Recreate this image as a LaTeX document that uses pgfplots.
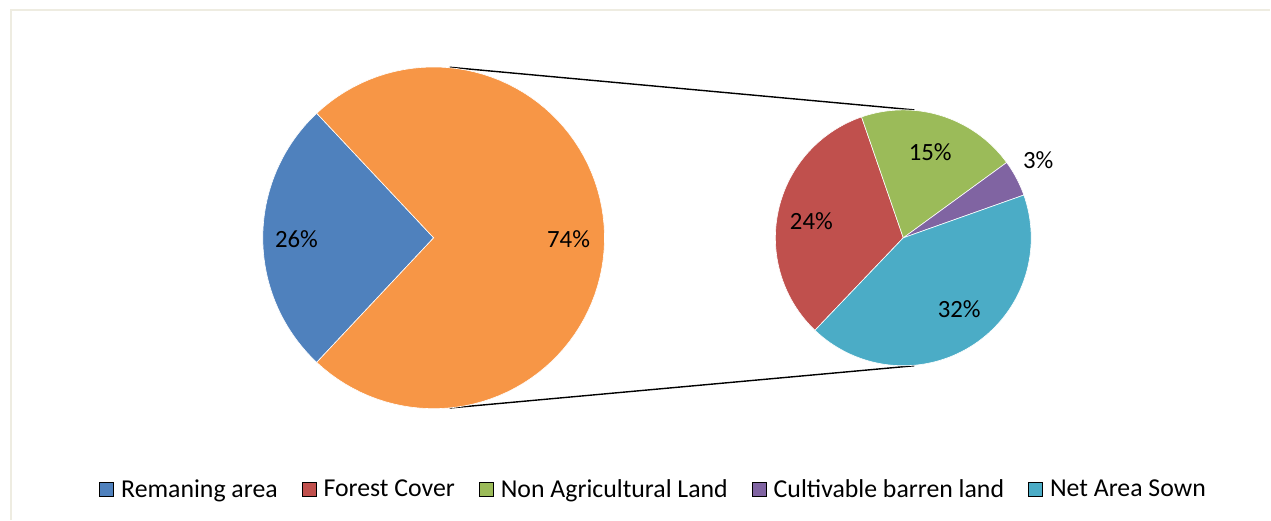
\documentclass[border=0pt]{standalone}
\usepackage{fontspec}
\setmainfont{Carlito}
\usepackage{pgfplots}
\pgfplotsset{compat=1.18}
\definecolor{cBlue}{HTML}{4F81BD}
\definecolor{cOrange}{HTML}{F79646}
\definecolor{cRed}{HTML}{C0504D}
\definecolor{cGreen}{HTML}{9BBB59}
\definecolor{cPurple}{HTML}{8064A2}
\definecolor{cCyan}{HTML}{4BACC6}
\definecolor{cFrame}{HTML}{EEECE1}
% data (percent of total area)
\def\vRemain{26}
\def\vOther{74}
\def\vForest{24.1}
\def\vNonAgri{15.0}
\def\vBarren{3.4}
\def\vNet{31.5}
% slice: cx, cy, r, start angle, end angle, colour
\newcommand{\slice}[6]{%
  \addplot[draw=white, line width=0.3pt, fill=#6, domain=#4:#5, samples=90, forget plot]
    ({#1+#3*cos(x)},{#2-#3*sin(x)}) -- (axis cs:#1,#2) -- cycle;}
\begin{document}
\begin{tikzpicture}
% angles
\pgfmathsetmacro{\lA}{180-0.5*\vRemain*3.6}
\pgfmathsetmacro{\lB}{180+0.5*\vRemain*3.6}
\pgfmathsetmacro{\k}{360/\vOther}
\pgfmathsetmacro{\rA}{226.3}
\pgfmathsetmacro{\rB}{\rA-\vForest*\k}
\pgfmathsetmacro{\rC}{\rB-\vNonAgri*\k}
\pgfmathsetmacro{\rD}{\rC-\vBarren*\k}
\pgfmathsetmacro{\rE}{\rD-\vNet*\k}
\begin{axis}[
  width=635.5pt, height=260pt, scale only axis,
  xmin=0, xmax=1271, ymin=0, ymax=520, y dir=reverse,
  hide axis, clip=false,
  legend columns=5,
  legend style={at={(axis cs:655,490)}, anchor=center, draw=none, fill=none,
    font=\fontsize{12.9}{15}\selectfont,
    /tikz/every even column/.append style={column sep=10pt},
    inner sep=0pt},
  legend image code/.code={\fill[#1] (0pt,-3.5pt) rectangle (7pt,3.5pt);
    \path (8.6pt,0pt);},
]
\path (axis cs:0,0) rectangle (axis cs:1271,520);
% frame
\draw[cFrame, line width=1pt] (axis cs:11,520) -- (axis cs:11,10.5) -- (axis cs:1271,10.5);
% connector lines
\addplot[black, line width=0.7pt, forget plot] coordinates {(450,67.3) (915,110)};
\addplot[black, line width=0.7pt, forget plot] coordinates {(450,408.3) (915,366)};
% left pie
\slice{434}{238}{171}{\lA}{\lB}{cBlue}
\slice{434}{238}{171}{-\lA}{\lA}{cOrange}
% right pie
\slice{904}{238}{128}{\rB}{\rA}{cRed}
\slice{904}{238}{128}{\rC}{\rB}{cGreen}
\slice{904}{238}{128}{\rD}{\rC}{cPurple}
\slice{904}{238}{128}{\rE}{\rD}{cCyan}
% data labels
\begin{scope}[every node/.style={font=\fontsize{12.4}{14}\selectfont, inner sep=0pt}]
\node at (axis cs:296.7,239) {26\%};
\node at (axis cs:569,239) {74\%};
\node at (axis cs:931,152) {15\%};
\node at (axis cs:812,221) {24\%};
\node at (axis cs:1039,160) {3\%};
\node at (axis cs:960,309) {32\%};
\end{scope}
% legend
\addlegendimage{fill=cBlue}
\addlegendentry{Remaning area}
\addlegendimage{fill=cRed}
\addlegendentry{Forest Cover}
\addlegendimage{fill=cGreen}
\addlegendentry{Non Agricultural Land}
\addlegendimage{fill=cPurple}
\addlegendentry{Cultivable barren land}
\addlegendimage{fill=cCyan}
\addlegendentry{Net Area Sown}
\end{axis}
\end{tikzpicture}
\end{document}
